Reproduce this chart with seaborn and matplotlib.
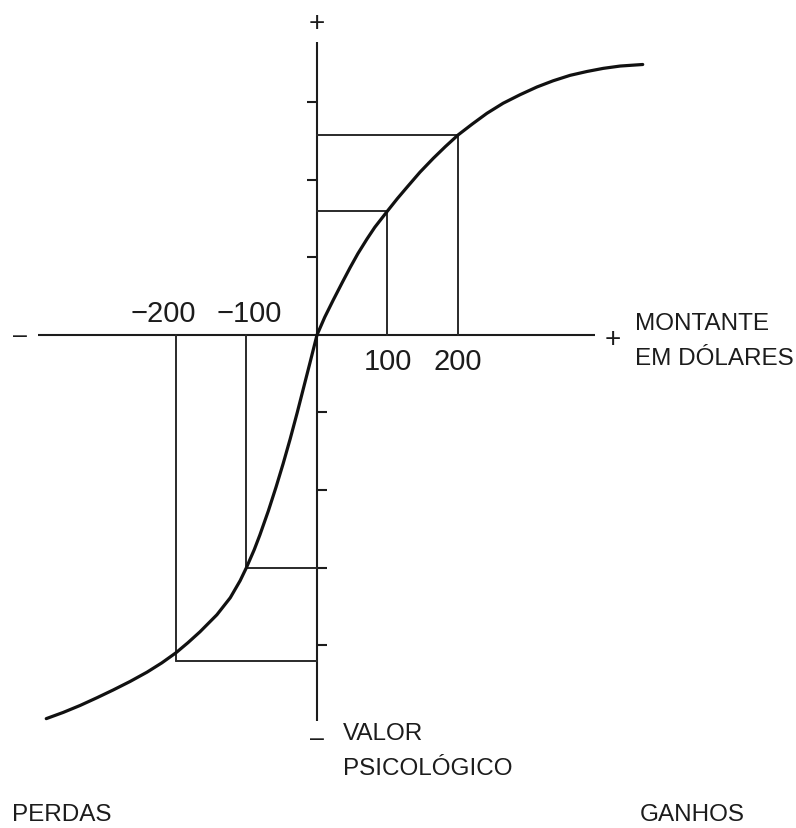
import numpy as np
import matplotlib
matplotlib.use("Agg")
import matplotlib.pyplot as plt
import seaborn as sns

# value curve (x in dollars, y in tick units of the value axis)
loss_x = [-384, -360, -336, -312, -289, -265, -241, -220, -200, -183, -166, -142, -123, -109,
          -100, -89, -81, -69, -58, -48, -38, -28, -19, -10]
loss_y = [-4.95, -4.87, -4.78, -4.68, -4.58, -4.47, -4.35, -4.23, -4.10, -3.97, -3.83, -3.61, -3.39, -3.17,
          -3.0, -2.77, -2.58, -2.27, -1.96, -1.66, -1.34, -1.00, -0.68, -0.36]
gain_x = [0, 11, 23, 36, 47, 58, 71, 82, 100, 114, 128, 146, 165, 182, 200, 220, 241, 264,
          288, 312, 335, 359, 383, 406, 430, 462]
gain_y = [0.0, 0.23, 0.45, 0.68, 0.87, 1.05, 1.24, 1.39, 1.60, 1.76, 1.91, 2.10, 2.28, 2.43, 2.58, 2.72,
          2.86, 2.99, 3.10, 3.20, 3.28, 3.35, 3.40, 3.44, 3.47, 3.49]

# amounts marked on the x axis and the value levels drawn for them
marks_x = [-200, -100, 100, 200]
marks_v = [-4.21, -3.0, 1.60, 2.58]
mark_labels = ["\u2212200", "\u2212100", "100", "200"]

ticks_pos = [1, 2, 3]
ticks_neg = [-1, -2, -3, -4]

sns.set_theme(style="white")
plt.rcParams['font.family'] = ['Liberation Sans', 'DejaVu Sans']

fig = plt.figure(figsize=(7.96, 8.29), dpi=100)
ax = fig.add_axes([0, 0, 1, 1])
ax.set_xlim(-449.6, 679.4)
ax.set_ylim(-6.361, 4.335)
ax.axis("off")

ink = "#1c1c1c"
axis_kw = dict(color=ink, lw=1.5, solid_capstyle="butt")
ax.plot([-396, 394], [0, 0], **axis_kw)
ax.plot([0, 0], [-4.98, 3.78], **axis_kw)
for t in ticks_pos:
    ax.plot([-14, 0], [t, t], **axis_kw)
for t in ticks_neg:
    ax.plot([0, 14], [t, t], **axis_kw)

# guide lines from the amounts to the curve and across to the value axis
for mx, mv in zip(marks_x, marks_v):
    ax.plot([mx, mx], [0, mv], color="#2a2a2a", lw=1.4)
    ax.plot([0, mx], [mv, mv], color="#2a2a2a", lw=1.4)

curve_x = loss_x + gain_x
curve_y = loss_y + gain_y
sns.lineplot(x=curve_x, y=curve_y, sort=False, color="#111111", lw=2.3, ax=ax)

num_fs = 21
txt_fs = 17.5
offsets = {-200: -18, -100: 4, 100: 0, 200: 0}
for mx, lab in zip(marks_x, mark_labels):
    yy = 0.29 if mx < 0 else -0.33
    ax.text(mx + offsets[mx], yy, lab, ha="center", va="center", fontsize=num_fs, color=ink)

ax.text(0, 4.03, "+", ha="center", va="center", fontsize=20, color=ink)
ax.text(0, -5.2, "\u2013", ha="center", va="center", fontsize=18, color=ink)
ax.text(-421, 0, "\u2013", ha="center", va="center", fontsize=18, color=ink)
ax.text(420, -0.05, "+", ha="center", va="center", fontsize=20, color=ink)

ax.text(451, -0.07, "MONTANTE\nEM D\u00d3LARES", ha="left", va="center", fontsize=txt_fs,
        color=ink, linespacing=1.8)
ax.text(37, -5.36, "VALOR\nPSICOL\u00d3GICO", ha="left", va="center", fontsize=txt_fs,
        color=ink, linespacing=1.8)
ax.text(-432, -6.18, "PERDAS", ha="left", va="center", fontsize=txt_fs, color=ink)
ax.text(458, -6.18, "GANHOS", ha="left", va="center", fontsize=txt_fs, color=ink)

fig.savefig("out.png", dpi=100)
